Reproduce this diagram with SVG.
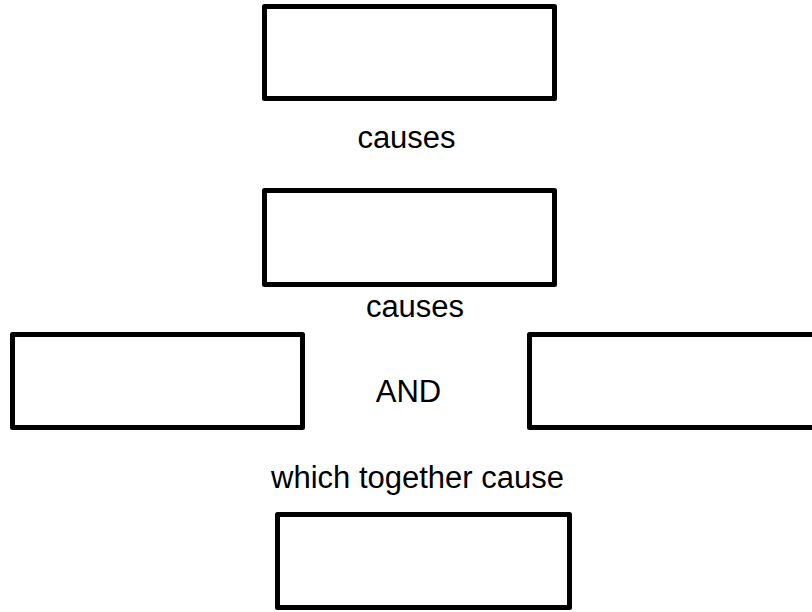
<svg xmlns="http://www.w3.org/2000/svg" width="812" height="612" viewBox="0 0 812 612">
<style>
.box{fill:#fff;stroke:#000;stroke-width:5;stroke-linejoin:round}
.lbl{font-family:"Liberation Sans",Arial,sans-serif;font-size:31px;fill:#000;text-anchor:middle}
</style>
<rect width="812" height="612" fill="#fff"/>
<g id="node1"><rect class="box" x="264.5" y="6.5" width="290" height="92"/></g>
<g id="node2"><rect class="box" x="264.5" y="190.5" width="290" height="94"/></g>
<g id="node3"><rect class="box" x="12.5" y="334.5" width="290" height="93"/></g>
<g id="node4"><rect class="box" x="529.5" y="334.5" width="290" height="93"/></g>
<g id="node5"><rect class="box" x="277.5" y="514.5" width="292" height="93"/></g>
<g id="connectors">
<text class="lbl" x="406.5" y="148">causes</text>
<text class="lbl" x="415" y="317">causes</text>
<text class="lbl" x="408.5" y="402">AND</text>
<text class="lbl" x="417.5" y="488">which together cause</text>
</g>
</svg>
